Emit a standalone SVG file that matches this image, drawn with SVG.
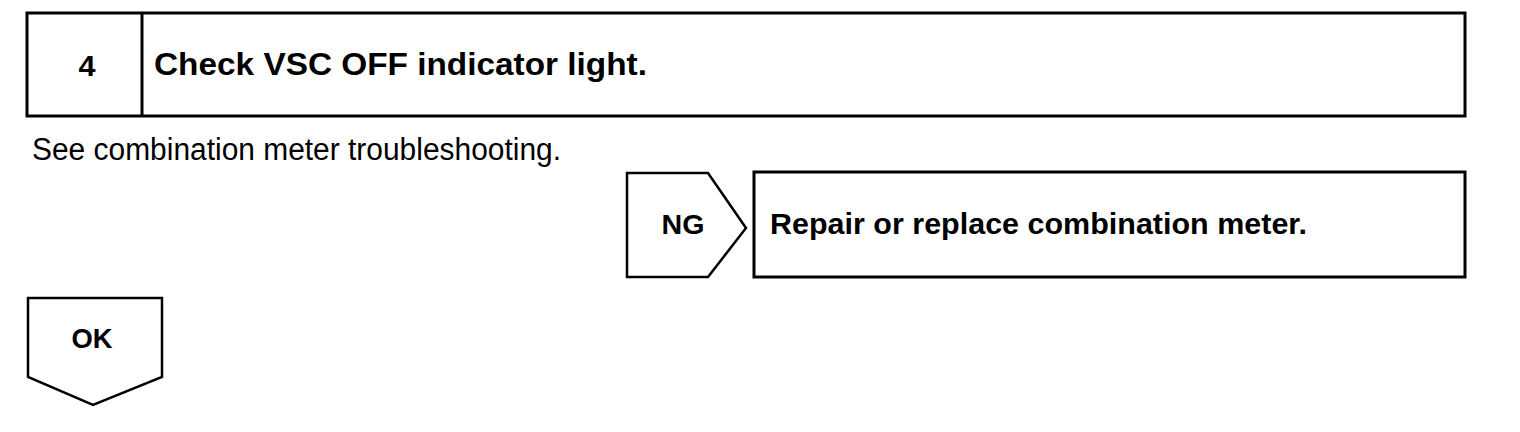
<svg xmlns="http://www.w3.org/2000/svg" width="1520" height="432" viewBox="0 0 1520 432">
<style>
.box{fill:#fff;stroke:#000;stroke-width:3}
.shape{fill:#fff;stroke:#000;stroke-width:2.5;stroke-linejoin:miter}
.b{font-family:"Liberation Sans",Arial,sans-serif;font-weight:bold;fill:#000}
.r{font-family:"Liberation Sans",Arial,sans-serif;fill:#000}
</style>
<rect width="1520" height="432" fill="#fff"/>
<g id="step4">
<rect class="box" x="27" y="13" width="1438" height="103"/>
<line x1="142" y1="13" x2="142" y2="116" stroke="#000" stroke-width="3"/>
<text class="b" x="87" y="76" font-size="29" text-anchor="middle" textLength="17" lengthAdjust="spacingAndGlyphs">4</text>
<text class="b" x="154" y="75" font-size="32" textLength="493" lengthAdjust="spacingAndGlyphs">Check VSC OFF indicator light.</text>
</g>
<g id="note">
<text class="r" x="32" y="160" font-size="31" textLength="529" lengthAdjust="spacingAndGlyphs">See combination meter troubleshooting.</text>
</g>
<g id="ng">
<path class="shape" d="M627,173 H708 L746,228 L708,277 H627 Z"/>
<text class="b" x="683" y="234" font-size="28" text-anchor="middle" textLength="43" lengthAdjust="spacingAndGlyphs">NG</text>
</g>
<g id="repair">
<rect class="box" x="754" y="172" width="711" height="105"/>
<text class="b" x="770" y="234" font-size="30" textLength="537" lengthAdjust="spacingAndGlyphs">Repair or replace combination meter.</text>
</g>
<g id="ok">
<path class="shape" d="M28,298 H162 V377 L93,405 L28,377 Z"/>
<text class="b" x="92" y="348" font-size="27" text-anchor="middle" textLength="41" lengthAdjust="spacingAndGlyphs">OK</text>
</g>
<g id="connectors"></g>
</svg>
